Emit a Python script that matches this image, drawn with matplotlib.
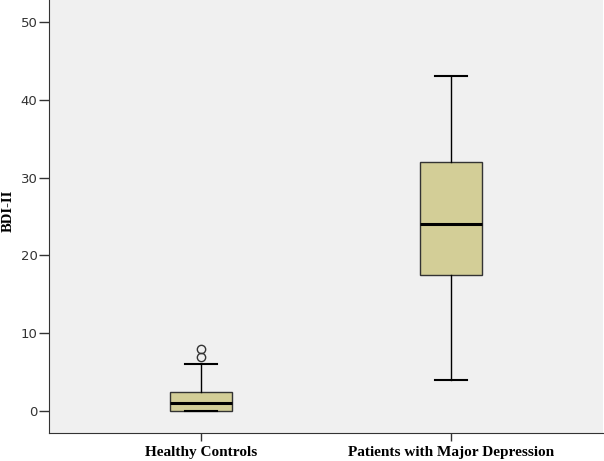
import matplotlib
matplotlib.use("Agg")
import matplotlib.pyplot as plt

categories = ["Healthy Controls", "Patients with Major Depression"]
whislo = [0, 4]
q1 = [0, 17.5]
med = [1, 24]
q3 = [2.5, 32]
whishi = [6, 43]
fliers = [[7, 8], []]

stats = []
for i, c in enumerate(categories):
    stats.append(dict(label=c, whislo=whislo[i], q1=q1[i], med=med[i], q3=q3[i],
                      whishi=whishi[i], fliers=fliers[i]))

fig = plt.figure(figsize=(6.04, 4.61), dpi=100)
ax = fig.add_axes([49/604, 28/461, 554/604, 433/461])
ax.set_facecolor("#F0F0F0")

ax.bxp(stats, positions=[1, 2], widths=0.25, patch_artist=True,
       boxprops=dict(facecolor="#D3CE97", edgecolor="#333333", linewidth=1.0),
       medianprops=dict(color="black", linewidth=2.2),
       whiskerprops=dict(color="black", linewidth=1.0),
       capprops=dict(color="black", linewidth=1.5),
       capwidths=0.125,
       flierprops=dict(marker="o", markerfacecolor="none", markeredgecolor="#333333",
                       markersize=6, linestyle="none"))

ax.set_xlim(0.392, 2.608)
ax.set_ylim(-2.83, 52.83)
ax.set_yticks([0, 10, 20, 30, 40, 50])
ax.set_xticks([1, 2])
ax.set_xticklabels(categories, fontfamily="Liberation Serif", fontweight="bold", fontsize=11)
for lbl in ax.get_yticklabels():
    lbl.set_fontsize(9.5)
    lbl.set_color("#333333")
ax.tick_params(axis="y", direction="out", length=7.2, width=1, color="#333333", pad=1)
ax.tick_params(axis="x", direction="out", length=6, width=1, color="#333333", pad=3)
ax.set_ylabel("BDI-II", fontfamily="Liberation Serif", fontweight="bold", fontsize=10.5)
ax.yaxis.set_label_coords(-0.062, 0.513)
for s in ["left", "bottom"]:
    ax.spines[s].set_color("#333333")
for s in ["top", "right"]:
    ax.spines[s].set_visible(False)

fig.savefig("out.png", dpi=100, facecolor="white")
